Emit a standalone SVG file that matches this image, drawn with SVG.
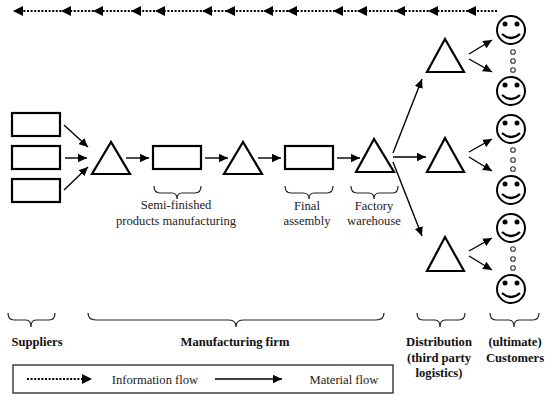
<svg xmlns="http://www.w3.org/2000/svg" width="550" height="400" viewBox="0 0 550 400">
<defs>
<marker id="a" markerUnits="userSpaceOnUse" markerWidth="10" markerHeight="9" refX="9" refY="4.5" orient="auto"><path d="M0 0.3L9 4.5L0 8.7Z" fill="#000"/></marker>
<g id="face"><circle r="14" fill="#fff" stroke="#000" stroke-width="2"/><circle cx="-6" cy="-6" r="2.5" fill="#000"/><circle cx="6" cy="-6" r="2.5" fill="#000"/><path d="M-9 4Q0 12 9 4" fill="none" stroke="#000" stroke-width="2.2"/></g>
<path id="tl" d="M0 -5L-10 0L0 5Z" fill="#000"/>
</defs>
<style>
.box{fill:#fff;stroke:#000;stroke-width:2.2}
.tri{fill:#fff;stroke:#000;stroke-width:2.2;stroke-linejoin:miter}
.c{fill:none;stroke:#000;stroke-width:1.4;marker-end:url(#a)}
.b{fill:none;stroke:#222;stroke-width:1.2}
.dot{fill:#fff;stroke:#333;stroke-width:1.1}
text{font-family:"Liberation Serif","Times New Roman",serif;font-size:12.6px;fill:#222;text-anchor:middle}
.h{font-weight:bold;fill:#111}
</style>
<g id="connectors">
<path d="M497 11H14" fill="none" stroke="#000" stroke-width="2" stroke-dasharray="2 1.6"/>
<use href="#tl" x="23" y="11"/><use href="#tl" x="71" y="11"/><use href="#tl" x="103" y="11"/><use href="#tl" x="141" y="11"/><use href="#tl" x="165" y="11"/><use href="#tl" x="212" y="11"/><use href="#tl" x="235" y="11"/><use href="#tl" x="273" y="11"/><use href="#tl" x="297" y="11"/><use href="#tl" x="343" y="11"/><use href="#tl" x="367" y="11"/><use href="#tl" x="405" y="11"/><use href="#tl" x="438" y="11"/><use href="#tl" x="476" y="11"/>
<path class="c" d="M64 125L88 147"/>
<path class="c" d="M65 158H87"/>
<path class="c" d="M64 190L88 167"/>
<path class="c" d="M126 158H149"/>
<path class="c" d="M205 158H228"/>
<path class="c" d="M258 158H281"/>
<path class="c" d="M337 158H360"/>
<path class="c" d="M393 153L422 79"/>
<path class="c" d="M393 157H426"/>
<path class="c" d="M393 162L422 236"/>
<path class="c" d="M469 54L492 40"/>
<path class="c" d="M469 59L492 72"/>
<path class="c" d="M469 152L492 139"/>
<path class="c" d="M469 157L492 171"/>
<path class="c" d="M469 251L492 238"/>
<path class="c" d="M469 256L492 270"/>
</g>
<g id="supplier1"><rect class="box" x="12" y="113" width="48" height="23"/></g>
<g id="supplier2"><rect class="box" x="12" y="146" width="48" height="23"/></g>
<g id="supplier3"><rect class="box" x="12" y="179" width="48" height="23"/></g>
<g id="store1"><path class="tri" d="M111 142L92 174H130Z"/></g>
<g id="semi"><rect class="box" x="153" y="146" width="48" height="23"/></g>
<g id="store2"><path class="tri" d="M243 142L224 174H262Z"/></g>
<g id="final"><rect class="box" x="285" y="146" width="48" height="23"/></g>
<g id="warehouse"><path class="tri" d="M374 139L356 172H394Z"/></g>
<g id="dist1"><path class="tri" d="M445 39L427 72H464Z"/></g>
<g id="dist2"><path class="tri" d="M445 138L427 172H464Z"/></g>
<g id="dist3"><path class="tri" d="M445 237L427 271H464Z"/></g>
<g id="customer1"><use href="#face" x="511" y="30"/></g>
<g id="customer2"><use href="#face" x="511" y="91"/></g>
<g id="customer3"><use href="#face" x="511" y="129"/></g>
<g id="customer4"><use href="#face" x="511" y="190"/></g>
<g id="customer5"><use href="#face" x="511" y="228"/></g>
<g id="customer6"><use href="#face" x="511" y="289"/></g>
<g id="dots">
<circle class="dot" cx="513" cy="52" r="2.3"/><circle class="dot" cx="513" cy="61" r="2.3"/><circle class="dot" cx="513" cy="70" r="2.3"/>
<circle class="dot" cx="513" cy="150" r="2.3"/><circle class="dot" cx="513" cy="160" r="2.3"/><circle class="dot" cx="513" cy="169" r="2.3"/>
<circle class="dot" cx="513" cy="249" r="2.3"/><circle class="dot" cx="513" cy="259" r="2.3"/><circle class="dot" cx="513" cy="268" r="2.3"/>
</g>
<g id="braces">
<path class="b" d="M154 186Q154 193 160 193H172Q177 193 177 199Q177 193 182 193H195Q201 193 201 186"/>
<path class="b" d="M285 186Q285 193 291 193H303Q309 193 309 199Q309 193 314 193H327Q333 193 333 186"/>
<path class="b" d="M351 186Q351 193 357 193H369Q374 193 374 199Q374 193 379 193H393Q398 193 398 186"/>
<path class="b" d="M8 313Q8 320 14 320H26Q31 320 31 327Q31 320 36 320H49Q55 320 55 313"/>
<path class="b" d="M88 313Q88 320 96 320H229Q236 320 236 327Q236 320 243 320H376Q384 320 384 313"/>
<path class="b" d="M417 313Q417 320 423 320H435Q440 320 440 327Q440 320 445 320H459Q465 320 465 313"/>
<path class="b" d="M490 313Q490 320 496 320H509Q514 320 514 327Q514 320 519 320H533Q539 320 539 313"/>
</g>
<g id="labels">
<text x="176" y="209">Semi-finished</text>
<text x="176" y="225">products manufacturing</text>
<text x="307" y="210">Final</text>
<text x="307" y="225">assembly</text>
<text x="374" y="210">Factory</text>
<text x="374" y="225">warehouse</text>
<text class="h" x="37" y="346">Suppliers</text>
<text class="h" x="235" y="346">Manufacturing firm</text>
<text class="h" x="439" y="346">Distribution</text>
<text class="h" x="439" y="362">(third party</text>
<text class="h" x="439" y="377">logistics)</text>
<text class="h" x="515" y="346">(ultimate)</text>
<text class="h" x="515" y="362">Customers</text>
</g>
<g id="legend">
<rect x="13" y="365" width="380" height="28" fill="none" stroke="#333" stroke-width="1.4"/>
<path d="M27 379H84" fill="none" stroke="#000" stroke-width="2" stroke-dasharray="2 1.6"/>
<path d="M82 374L92 379L82 384Z" fill="#000"/>
<text x="155" y="384">Information flow</text>
<path class="c" d="M215 379H282"/>
<text x="344" y="384">Material flow</text>
</g>
</svg>
